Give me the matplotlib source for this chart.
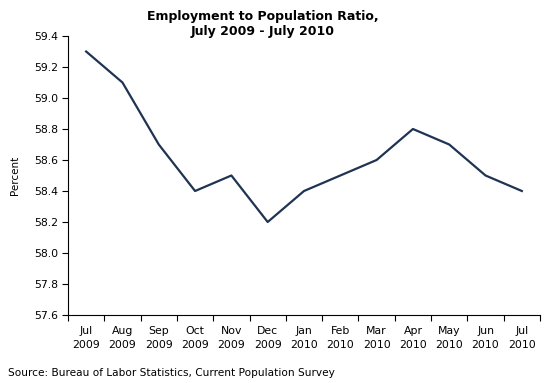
import matplotlib
matplotlib.use("Agg")
import matplotlib.pyplot as plt
import numpy as np

months = ["Jul", "Aug", "Sep", "Oct", "Nov", "Dec", "Jan", "Feb", "Mar", "Apr", "May", "Jun", "Jul"]
years = ["2009"] * 6 + ["2010"] * 7
values = [59.3, 59.1, 58.7, 58.4, 58.5, 58.2, 58.4, 58.5, 58.6, 58.8, 58.7, 58.5, 58.4]
yticks = [57.6, 57.8, 58.0, 58.2, 58.4, 58.6, 58.8, 59.0, 59.2, 59.4]

plt.rcParams['font.family'] = ['DejaVu Sans']
fig = plt.figure(figsize=(5.5, 3.83), dpi=100)
ax = fig.add_axes([68/550, 1-315/383, (540-68)/550, (315-36)/383])

x = np.arange(len(values))
ax.plot(x, values, color="#1f3452", linewidth=1.6)
ax.set_xlim(-0.5, len(values) - 0.5)
ax.set_ylim(57.6, 59.4)
ax.set_yticks(yticks)
ax.set_yticklabels([f"{v:.1f}" for v in yticks], fontsize=7.8)
ax.set_xticks(np.arange(-0.5, len(values), 1.0))
ax.set_xticklabels([])
ax.set_xticks(x, minor=True)
ax.set_xticklabels([f"{m}\n{y}" for m, y in zip(months, years)], minor=True, fontsize=7.8, linespacing=1.45)
ax.tick_params(axis='x', which='minor', length=0, pad=8)
ax.tick_params(axis='x', which='major', length=4, direction='out', width=0.8)
ax.tick_params(axis='y', length=4, direction='out', width=0.8, pad=3)
for s in ['top', 'right']:
    ax.spines[s].set_visible(False)
for s in ['left', 'bottom']:
    ax.spines[s].set_color('black')
    ax.spines[s].set_linewidth(0.8)
ax.set_ylabel("Percent", fontsize=7.5, labelpad=10)

fig.text(263/550, 1-10/383, "Employment to Population Ratio,\nJuly 2009 - July 2010",
         ha='center', va='top', fontsize=9, fontweight='bold', linespacing=1.2)
fig.text(8/550, 1-373/383, "Source: Bureau of Labor Statistics, Current Population Survey",
         ha='left', va='center', fontsize=7.6)

fig.savefig("out.png", dpi=100)
